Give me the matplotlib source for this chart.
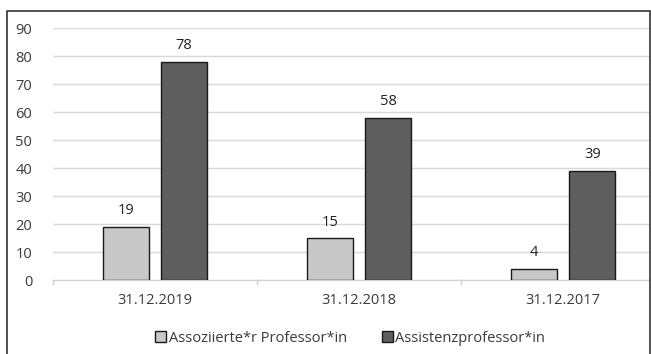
import matplotlib.pyplot as plt
import numpy as np
from matplotlib.lines import Line2D
from matplotlib.patches import Patch

categories = ['31.12.2019', '31.12.2018', '31.12.2017']
series_names = ['Assoziierte*r Professor*in', 'Assistenzprofessor*in']
assoz = [19, 15, 4]
assist = [78, 58, 39]
yticks = list(range(0, 100, 10))

LIGHT = '#c8c8c8'
DARK = '#5e5e5e'
TEXT = '#3a3a3a'

plt.rcParams.update({'font.family': ['Open Sans', 'DejaVu Sans'], 'font.size': 10})

W, H = 651, 354
fig = plt.figure(figsize=(W / 100, H / 100), dpi=100)
ax = fig.add_axes([53 / W, 1 - 280 / H, (649 - 53) / W, (280 - 28) / H])

x = np.arange(len(categories))
w = 0.225
off = 0.142
b1 = ax.bar(x - off, assoz, w, color=LIGHT, edgecolor='#1a1a1a', linewidth=1.0, zorder=3)
b2 = ax.bar(x + off, assist, w, color=DARK, edgecolor='#1a1a1a', linewidth=1.0, zorder=3)

for bars in (b1, b2):
    for bar in bars:
        h = bar.get_height()
        ax.text(bar.get_x() + bar.get_width() / 2, h + 3.0, f'{h:.0f}',
                ha='center', va='bottom', color='#222222', fontsize=10.5)

ax.set_ylim(0, 90)
ax.set_xlim(-0.5, 2.42)
ax.set_yticks(yticks)
ax.set_xticks(x)
ax.set_xticklabels(categories)
ax.grid(axis='y', color='#d9d9d9', linewidth=1.0, zorder=0)
for s in ['top', 'right', 'left']:
    ax.spines[s].set_visible(False)
ax.spines['bottom'].set_color('#d0d0d0')
ax.tick_params(axis='y', length=0, pad=15, colors=TEXT, labelsize=10.5)
ax.tick_params(axis='x', length=0, pad=9, colors=TEXT, labelsize=10.5)
for b in [-0.5, 0.5, 1.5]:
    ax.plot([b, b], [0, -1.6], color='#d0d0d0', lw=1, clip_on=False)

handles = [Patch(facecolor=LIGHT, edgecolor='#1a1a1a', linewidth=1.0),
           Patch(facecolor=DARK, edgecolor='#1a1a1a', linewidth=1.0)]
fig.legend(handles, series_names, loc='center', bbox_to_anchor=(350 / W, 1 - 338 / H),
           ncol=2, frameon=False, handlelength=0.75, handleheight=0.75,
           handletextpad=0.15, columnspacing=2.4, labelcolor=TEXT, fontsize=10.5)

# outer chart frame (bottom edge cropped away)
fig.add_artist(Line2D([7 / W, 7 / W, 650 / W, 650 / W], [0, 1 - 11 / H, 1 - 11 / H, 0],
                      transform=fig.transFigure, color='#333333', lw=1.2))

fig.savefig('out.png', dpi=100)
